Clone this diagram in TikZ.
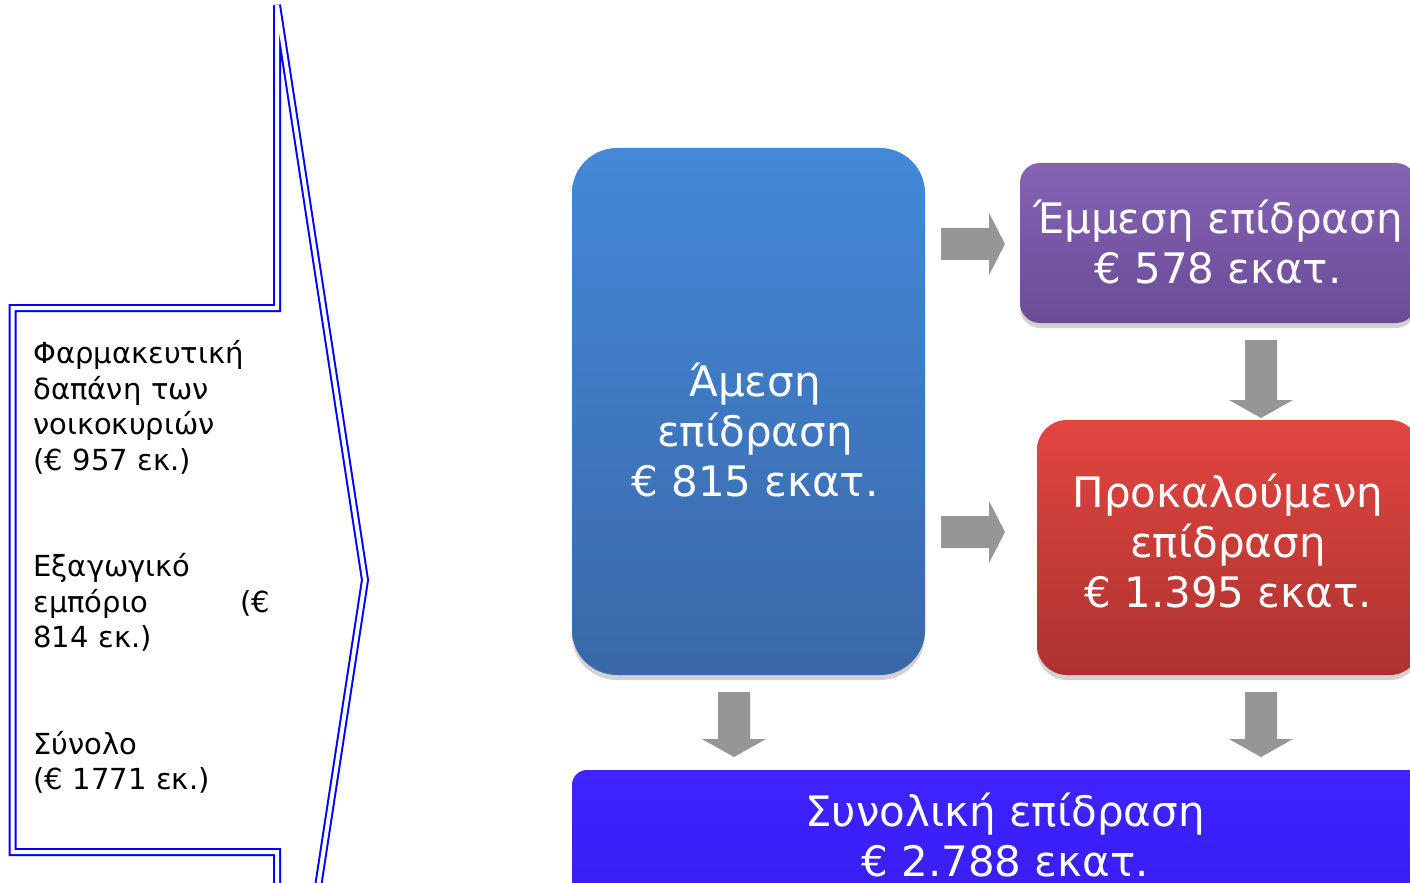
\documentclass[tikz,border=0pt]{standalone}
\usepackage{fontspec}
\setmainfont{DejaVu Sans}
\usetikzlibrary{shadows}
\definecolor{callblue}{RGB}{0,0,255}
\definecolor{arrgray}{RGB}{150,150,150}
\definecolor{dirtop}{RGB}{68,136,216}
\definecolor{dirbot}{RGB}{58,104,168}
\definecolor{purtop}{RGB}{133,99,181}
\definecolor{purbot}{RGB}{106,76,150}
\definecolor{redtop}{RGB}{226,70,64}
\definecolor{redbot}{RGB}{172,50,48}
\definecolor{tottop}{RGB}{62,36,255}
\definecolor{totbot}{RGB}{56,30,240}
\tikzset{
  box/.style={rectangle, draw=none, inner sep=0pt,
    drop shadow={opacity=0.35, shadow xshift=0pt, shadow yshift=-2.5pt}},
  boxtext/.style={text=white, align=center, font=\fontsize{21}{25}\selectfont},
  grayarrow/.style={fill=arrgray, draw=none},
  callout/.style={draw=callblue, double=white, line width=1pt, double distance=2pt, line join=miter}
}
\begin{document}
\begin{tikzpicture}[x=0.5pt,y=-0.5pt]
\useasboundingbox (0,0) rectangle (1410,883);
\clip (0,0) rectangle (1410,883);
\fill[white] (0,0) rectangle (1410,883);
% callout shape
\draw[callout] (12.5,308) -- (277,308) -- (277,5) -- (365,580) -- (277,1155) -- (277,852) -- (12.5,852) -- cycle;
\node[anchor=base west, align=left, text width=118.5pt, inner sep=0pt,
  font=\fontsize{14.5}{17.75}\selectfont] (src) at (33,364)
  {Φαρμακευτική\\δαπάνη των\\νοικοκυριών\\(€ 957 εκ.)\\[35.5pt]
   Εξαγωγικό\\εμπόριο\hfill(€\\814 εκ.)\\[35.5pt]
   Σύνολο\\(€ 1771 εκ.)};
% boxes
\node[box, top color=dirtop, bottom color=dirbot, rounded corners=22.5pt,
  minimum width=176.5pt, minimum height=263.5pt] (direct) at (748.5,411.5) {};
\node[boxtext] (directtxt) at (755,430) {Άμεση\\επίδραση\\€ 815 εκατ.};
\node[box, top color=purtop, bottom color=purbot, rounded corners=10pt,
  minimum width=198pt, minimum height=80pt] (indirect) at (1218,243) {};
\node[boxtext] (indirecttxt) at (1218,242) {Έμμεση επίδραση\\€ 578 εκατ.};
\node[box, top color=redtop, bottom color=redbot, rounded corners=15pt,
  minimum width=191.5pt, minimum height=127.5pt] (induced) at (1228.5,547.5) {};
\node[boxtext] (inducedtxt) at (1228,541) {Προκαλούμενη\\επίδραση\\€ 1.395 εκατ.};
\node[box, top color=tottop, bottom color=totbot, rounded corners=7.5pt,
  minimum width=434pt, minimum height=65pt] (total) at (1006,835) {};
\node[boxtext] (totaltxt) at (1005,835) {Συνολική επίδραση\\€ 2.788 εκατ.};
% gray block arrows
\fill[grayarrow] (941,228) -- (989,228) -- (989,213) -- (1005,244) -- (989,275) -- (989,260) -- (941,260) -- cycle;
\fill[grayarrow] (941,516) -- (989,516) -- (989,501) -- (1005,532) -- (989,563) -- (989,548) -- (941,548) -- cycle;
\fill[grayarrow] (1245,340) -- (1277,340) -- (1277,400) -- (1293,400) -- (1261,418) -- (1229,400) -- (1245,400) -- cycle;
\fill[grayarrow] (718,692) -- (750,692) -- (750,739) -- (766,739) -- (734,757) -- (702,739) -- (718,739) -- cycle;
\fill[grayarrow] (1245,692) -- (1277,692) -- (1277,739) -- (1293,739) -- (1261,757) -- (1229,739) -- (1245,739) -- cycle;
\end{tikzpicture}
\end{document}
